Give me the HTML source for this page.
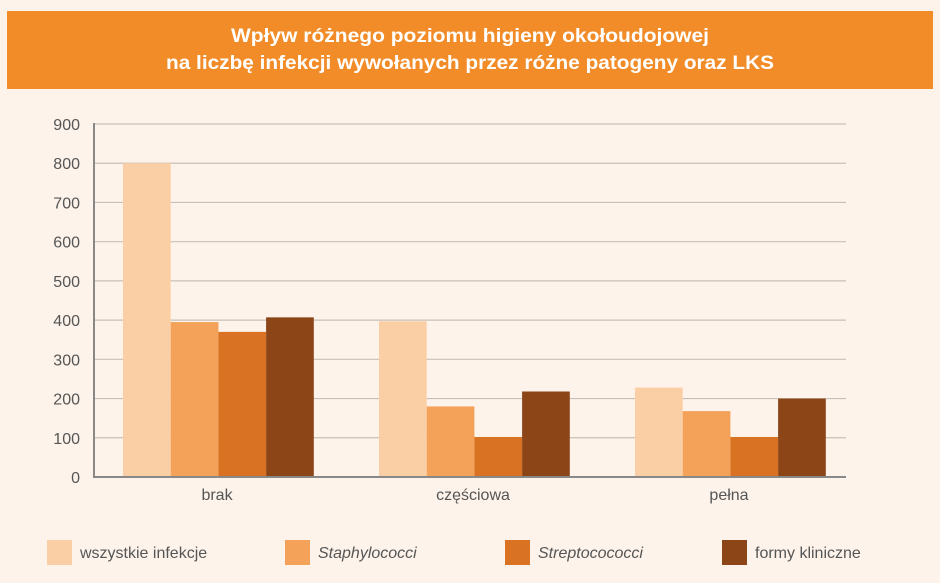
<!DOCTYPE html>
<html><head><meta charset="utf-8"><style>
body{margin:0;background:#FDF3EA;}
svg{display:block;font-family:"Liberation Sans",sans-serif;}
</style></head><body>
<svg id="chart" width="940" height="583" viewBox="0 0 940 583">
<rect x="0" y="0" width="940" height="583" fill="#FDF3EA"/>
<rect x="7" y="11" width="926" height="78" fill="#F28C28"/>
<text x="470" y="42" text-anchor="middle" fill="#fff" font-weight="bold" font-size="19" textLength="478" lengthAdjust="spacingAndGlyphs">Wpływ różnego poziomu higieny okołoudojowej</text>
<text x="470" y="69" text-anchor="middle" fill="#fff" font-weight="bold" font-size="19" textLength="608" lengthAdjust="spacingAndGlyphs">na liczbę infekcji wywołanych przez różne patogeny oraz LKS</text>
<g id="grid"></g><g id="bars"></g><g id="axes"></g><g id="legend"></g>
</svg>
<script>
const categories = ["brak", "częściowa", "pełna"];
const seriesNames = ["wszystkie infekcje", "Staphylococci", "Streptocococci", "formy kliniczne"];
const allInfections = [800, 397, 228];
const staphylococci = [395, 180, 168];
const streptococci = [370, 102, 102];
const clinical = [407, 218, 200];
const yTicks = [0, 100, 200, 300, 400, 500, 600, 700, 800, 900];
const colors = ["#FBCFA5", "#F4A259", "#D97323", "#8C4517"];
const series = [allInfections, staphylococci, streptococci, clinical];
const NS = "http://www.w3.org/2000/svg";
const x0 = 94, x1 = 846, y0 = 477, yTop = 124, yMax = 900;
const bandStart = 90, step = 256, barOff = 33, barW = 47.7;
function y(v){ return y0 - (v / yMax) * (y0 - yTop); }
function bandX(i){ return bandStart + i * step; }
function mk(tag, attrs, parent){ const e = document.createElementNS(NS, tag); for (const k in attrs) e.setAttribute(k, attrs[k]); parent.appendChild(e); return e; }
const grid = document.getElementById("grid"), bars = document.getElementById("bars"), axes = document.getElementById("axes"), legend = document.getElementById("legend");
yTicks.forEach(t => {
  if (t > 0) {
    const l = mk("line", {x1: x0, x2: x1, y1: y(t), y2: y(t), stroke: "#C8C0B8", "stroke-width": 1.2}, grid);
    
    
  }
  const tx = mk("text", {x: 80, y: y(t) + 6, "text-anchor": "end", "font-size": 16, fill: "#555"}, axes);
  
  
  tx.textContent = t;
});
categories.forEach((c, i) => {
  series.forEach((s, j) => {
    const r = mk("rect", {x: bandX(i) + barOff + j * barW, y: y(s[i]), width: barW, height: y0 - y(s[i]), fill: colors[j]}, bars);
    
    
  });
  const tx = mk("text", {x: bandX(i) + step / 2 - 1, y: 500, "text-anchor": "middle", "font-size": 16, fill: "#555"}, axes);
  
  
  tx.textContent = c;
});
const ya = mk("line", {x1: x0, x2: x0, y1: yTop - 1, y2: y0 + 1, stroke: "#888", "stroke-width": 2}, axes);


const xa = mk("line", {x1: x0 - 1, x2: x1, y1: y0, y2: y0, stroke: "#888", "stroke-width": 2}, axes);


const legX = [47, 285, 505, 722];
seriesNames.forEach((n, j) => {
  const g = mk("g", {}, legend);
  
  
  mk("rect", {x: legX[j], y: 540, width: 25, height: 25, fill: colors[j]}, g);
  const t = mk("text", {x: legX[j] + 33, y: 558, "font-size": 16, fill: "#555", "font-style": (j === 1 || j === 2) ? "italic" : "normal"}, g);
  
  
  t.textContent = n;
});
</script>
</body></html>
